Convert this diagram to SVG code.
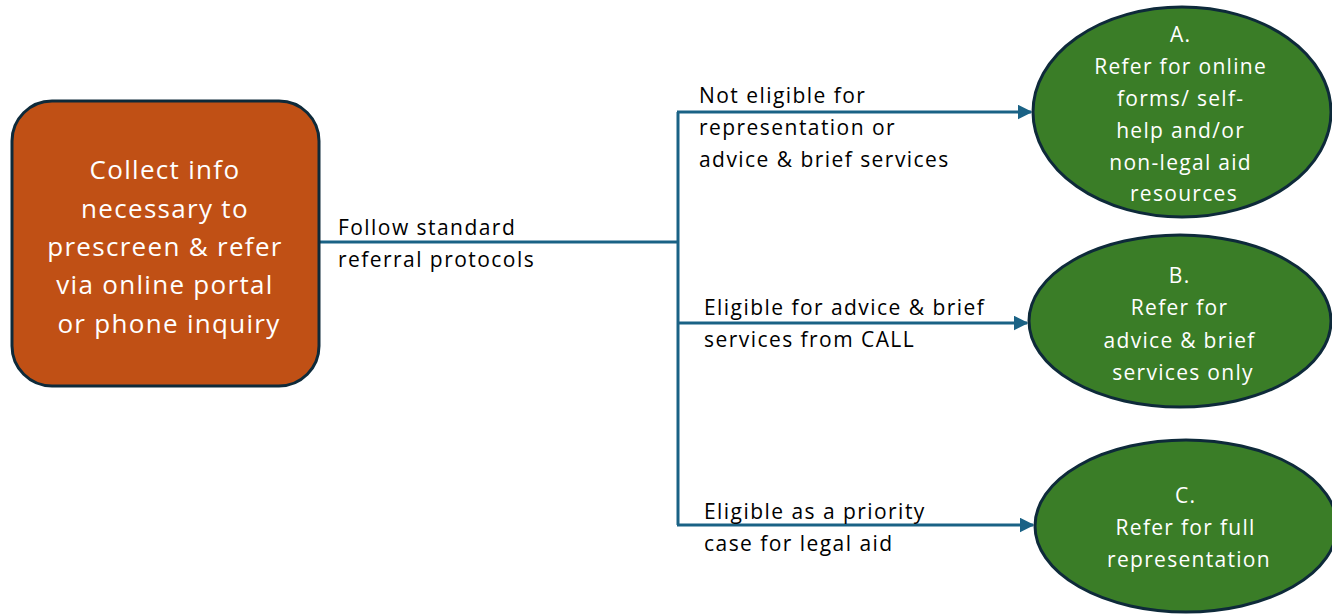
<svg xmlns="http://www.w3.org/2000/svg" width="1332" height="615" viewBox="0 0 1332 615">
<style>
.node-rect{fill:#c05015;stroke:#0e2a3a;stroke-width:3}
.node-ell{fill:#3a7d27;stroke:#0e2a3a;stroke-width:3}
.wt{fill:#ffffff;font-family:"Open Sans","Liberation Sans",Arial,sans-serif;text-anchor:middle;letter-spacing:1.3px}
.lbl{fill:#000000;font-family:"Open Sans","Liberation Sans",Arial,sans-serif;font-size:21px;letter-spacing:1.45px}
.conn{fill:none;stroke:#1a6285;stroke-width:3}
</style>
<defs>
<marker id="arr" viewBox="0 0 10 10" refX="9" refY="5" markerWidth="5" markerHeight="5" orient="auto" markerUnits="strokeWidth">
<path d="M0,0 L10,5 L0,10 z" fill="#1a6285"/>
</marker>
</defs>
<rect width="1332" height="615" fill="#ffffff"/>
<g id="connectors">
<path class="conn" d="M319,242 H678"/>
<path class="conn" d="M678,112 V525"/>
<path class="conn" d="M677,112 H1031" marker-end="url(#arr)"/>
<path class="conn" d="M677,323 H1027" marker-end="url(#arr)"/>
<path class="conn" d="M677,525 H1033" marker-end="url(#arr)"/>
<text class="lbl" x="338" y="235">Follow standard</text>
<text class="lbl" x="338" y="267">referral protocols</text>
<text class="lbl" x="699" y="103">Not eligible for</text>
<text class="lbl" x="699" y="135">representation or</text>
<text class="lbl" x="699" y="167">advice &amp; brief services</text>
<text class="lbl" x="704" y="315">Eligible for advice &amp; brief</text>
<text class="lbl" x="704" y="347">services from CALL</text>
<text class="lbl" x="704" y="519">Eligible as a priority</text>
<text class="lbl" x="704" y="551">case for legal aid</text>
</g>
<g id="collect">
<rect class="node-rect" x="12" y="101" width="307" height="285" rx="40" ry="40"/>
<text class="wt" font-size="26">
<tspan x="169" y="179">Collect info</tspan>
<tspan x="169" y="218">necessary to</tspan>
<tspan x="169" y="256">prescreen &amp; refer</tspan>
<tspan x="169" y="294">via online portal</tspan>
<tspan x="169" y="333">or phone inquiry</tspan>
</text>
</g>
<g id="nodeA">
<ellipse class="node-ell" cx="1182" cy="112" rx="149" ry="105"/>
<text class="wt" font-size="21">
<tspan x="1184" y="42">A.</tspan>
<tspan x="1184" y="74">Refer for online</tspan>
<tspan x="1184" y="106">forms/ self-</tspan>
<tspan x="1184" y="138">help and/or</tspan>
<tspan x="1184" y="170">non-legal aid</tspan>
<tspan x="1184" y="201">resources</tspan>
</text>
</g>
<g id="nodeB">
<ellipse class="node-ell" cx="1180" cy="321" rx="151" ry="86"/>
<text class="wt" font-size="21">
<tspan x="1183" y="283">B.</tspan>
<tspan x="1183" y="315">Refer for</tspan>
<tspan x="1183" y="348">advice &amp; brief</tspan>
<tspan x="1183" y="380">services only</tspan>
</text>
</g>
<g id="nodeC">
<ellipse class="node-ell" cx="1186" cy="526" rx="151" ry="86"/>
<text class="wt" font-size="21">
<tspan x="1189" y="503">C.</tspan>
<tspan x="1189" y="535">Refer for full</tspan>
<tspan x="1189" y="567">representation</tspan>
</text>
</g>
</svg>
